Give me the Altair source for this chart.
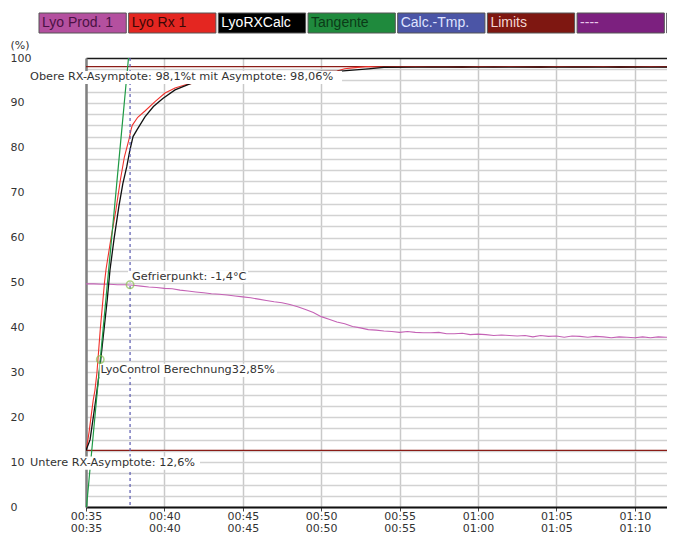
import altair as alt
import pandas as pd

# ---------------- legend bar ----------------
legend_labels = ["Lyo Prod. 1", "Lyo Rx 1", "LyoRXCalc", "Tangente", "Calc.-Tmp.", "Limits", "----", "----"]
legend_fill = ["#b4509f", "#e42621", "#000000", "#1f8a3d", "#4b55a6", "#7e1711", "#7c207f", "#2f2a70"]
legend_text = ["#4a1244", "#3a0806", "#ffffff", "#0b3a17", "#dfe3ff", "#f3d6d3", "#e8c8ea", "#d8d6f5"]

# ---------------- series (time in minutes after 00:00, value in %) ----------------
prod_t = [35.0, 35.5, 36.0, 36.5, 37.0, 37.5, 38.0, 38.5, 39.0, 39.5, 40.0, 40.5, 41.0, 41.5,
          42.0, 42.5, 43.0, 43.5, 44.0, 44.5, 45.0, 45.5, 46.0, 46.5, 47.0, 47.5, 48.0, 48.5,
          49.0, 49.5, 50.0, 50.5, 51.0, 51.5, 52.0, 52.5, 53.0, 53.5, 54.0, 54.5, 55.0, 55.5,
          56.0, 56.5, 57.0, 57.5, 58.0, 58.5, 59.0, 59.5, 60.0, 60.5, 61.0, 61.5, 62.0, 62.5,
          63.0, 63.5, 64.0, 64.5, 65.0, 65.5, 66.0, 66.5, 67.0, 67.5, 68.0, 68.5, 69.0, 69.5,
          70.0, 70.5, 71.0, 71.5, 72.0, 72.5]
prod_v = [49.7, 49.7, 49.6, 49.6, 49.5, 49.5, 49.4, 49.2, 49.0, 48.9, 48.7, 48.6, 48.3, 48.1,
          47.9, 47.7, 47.5, 47.4, 47.2, 47.0, 46.8, 46.6, 46.3, 46.0, 45.7, 45.5, 45.1, 44.6,
          44.0, 43.3, 42.4, 41.8, 41.2, 40.8, 40.2, 39.9, 39.5, 39.4, 39.2, 39.1, 38.9, 39.1,
          38.9, 38.8, 38.8, 38.9, 38.6, 38.6, 38.7, 38.4, 38.5, 38.4, 38.2, 38.3, 38.2, 38.1,
          38.2, 37.9, 38.2, 38.0, 38.1, 37.8, 38.1, 38.0, 37.8, 38.0, 37.9, 37.7, 37.9, 37.8,
          37.7, 37.9, 37.7, 37.9, 37.8, 37.9]

rx_t = [35.0, 35.1, 35.2, 35.3, 35.46, 35.57, 35.7, 35.92, 36.18, 36.28, 36.6, 36.9, 37.2,
        37.45, 37.6, 37.75, 37.87, 37.95, 38.3, 38.76, 39.4, 40.04, 40.68, 41.3, 41.83, 42.5,
        43.0, 44.0, 45.0, 46.0, 47.0, 48.0, 49.0, 50.0, 51.0, 51.5, 52.0, 53.0, 54.0, 55.0,
        56.0, 57.0, 58.0, 59.0, 60.0, 61.0, 62.0, 63.0, 64.0, 65.0, 66.0, 67.0, 68.0, 69.0,
        70.0, 71.0, 72.0, 72.6]
rx_v = [12.6, 14.5, 16.8, 19.5, 23.8, 26.0, 30.0, 40.0, 50.0, 53.0, 60.0, 66.0, 73.0,
        78.0, 80.0, 82.0, 84.0, 85.0, 86.8, 88.2, 90.3, 92.2, 93.3, 94.0, 94.4, 94.9,
        95.3, 95.9, 96.3, 96.6, 96.8, 96.9, 97.0, 97.0, 97.1, 97.6, 97.8, 98.1, 97.9, 98.0,
        98.1, 98.0, 98.0, 97.9, 98.1, 98.0, 98.1, 98.0, 97.9, 98.1, 98.0, 98.0, 98.1, 97.9,
        98.0, 98.1, 98.0, 98.0]

calc_t = [35.0, 35.26, 35.62, 35.85, 36.1, 36.35, 36.53, 36.8, 37.1, 37.35, 37.6, 37.8, 38.0,
          38.25, 38.76, 39.3, 39.9, 40.68, 41.74, 42.5, 43.0, 44.0, 45.0, 46.0, 47.0, 48.0,
          49.0, 50.0, 51.0, 52.0, 53.0, 54.0, 56.0, 60.0, 64.0, 68.0, 72.6]
calc_v = [12.6, 15.0, 23.8, 30.0, 38.0, 46.0, 52.8, 60.0, 67.0, 72.0, 75.8, 79.5, 82.5,
          84.0, 86.9, 89.2, 91.0, 92.9, 94.4, 94.9, 95.2, 95.7, 96.1, 96.4, 96.6, 96.8,
          96.9, 97.0, 97.0, 97.3, 97.6, 97.9, 97.95, 97.95, 97.95, 97.95, 97.95]

tangent_t = [35.03, 37.71]
tangent_v = [0.0, 100.0]

calc_tmp_t = [37.81]
limit_v = [98.1, 12.6]

marker_t = [37.81, 35.91]
marker_v = [49.5, 32.85]

ann_text = ["Obere RX-Asymptote: 98,1%t mit Asymptote: 98,06%", "Gefrierpunkt: -1,4°C",
            "LyoControl Berechnung32,85%", "Untere RX-Asymptote: 12,6%"]
ann_x = [31.43, 37.93, 35.92, 31.43]
ann_y = [95.8, 51.3, 30.5, 9.8]
ann_bx0 = [31.30, 37.68, 35.86, 31.30]
ann_bx1 = [51.33, 45.33, 47.18, 42.27]
ann_by0 = [94.2, 50.0, 28.95, 8.3]
ann_by1 = [97.1, 52.6, 31.9, 11.25]

x_ticks = [35, 40, 45, 50, 55, 60, 65, 70]
y_ticks = [0, 2.5, 5, 7.5, 10, 12.5, 15, 17.5, 20, 22.5, 25, 27.5, 30, 32.5, 35, 37.5, 40, 42.5,
           45, 47.5, 50, 52.5, 55, 57.5, 60, 62.5, 65, 67.5, 70, 72.5, 75, 77.5, 80, 82.5, 85,
           87.5, 90, 92.5, 95, 97.5, 100]

FONT = "DejaVu Sans"
W, H = 581, 449

xscale = alt.Scale(domain=[35, 72.054], zero=False, nice=False)
yscale = alt.Scale(domain=[0, 100], zero=False, nice=False)

time_lbl = "timeFormat(datetime(2000, 0, 1, 0, datum.value, 0), '%H:%M')"
xaxis = alt.Axis(values=x_ticks, labelExpr="[" + time_lbl + ", " + time_lbl + "]",
                 grid=True, gridColor="#c9c9c9", gridWidth=1.5,
                 domainColor="#111111", domainWidth=2, tickSize=4, tickColor="#444444",
                 labelFlush=False, labelOverlap=False, labelBaseline="top", labelPadding=-1,
                 labelLineHeight=12, labelFont=FONT, labelFontSize=11, labelColor="#333333",
                 title=None)
yaxis = alt.Axis(values=y_ticks, labelExpr="datum.value % 10 === 0 ? datum.label : ''",
                 grid=True,
                 gridColor=alt.condition("datum.value === 100", alt.value("#1a1a1a"), alt.value("#d2d2d2")),
                 gridWidth=1.5, domainColor="#808080", domainWidth=2.5, tickSize=0,
                 labelAlign="left", labelBaseline="middle", labelPadding=76, labelFlush=False,
                 labelOverlap=False, labelFont=FONT, labelFontSize=11, labelColor="#333333",
                 title="(%)", titleAngle=0, titleX=-76, titleY=-13, titleAlign="left",
                 titleBaseline="middle", titleFont=FONT, titleFontSize=11,
                 titleFontWeight="normal", titleColor="#333333")


def X(field):
    return alt.X(field, type="quantitative", scale=xscale, axis=xaxis)


def Y(field):
    return alt.Y(field, type="quantitative", scale=yscale, axis=yaxis)


df_prod = pd.DataFrame({"t": prod_t, "v": prod_v})
df_rx = pd.DataFrame({"t": rx_t, "v": rx_v})
df_calc = pd.DataFrame({"t": calc_t, "v": calc_v})
df_tan = pd.DataFrame({"t": tangent_t, "v": tangent_v})
df_ctmp = pd.DataFrame({"t": calc_tmp_t})
df_lim = pd.DataFrame({"v": limit_v})
df_mark = pd.DataFrame({"t": marker_t, "v": marker_v})
df_ann = pd.DataFrame({"txt": ann_text, "t": ann_x, "v": ann_y,
                       "bx0": ann_bx0, "bx1": ann_bx1, "by0": ann_by0, "by1": ann_by1})

limits = alt.Chart(df_lim).mark_rule(color="#8b1c17", strokeWidth=1.2).encode(y=Y("v"))
prod = alt.Chart(df_prod).mark_line(color="#c462b5", strokeWidth=1.1, clip=True).encode(x=X("t"), y=Y("v"))
rx = alt.Chart(df_rx).mark_line(color="#f0302a", strokeWidth=1.1, clip=True).encode(x=X("t"), y=Y("v"))
calc = alt.Chart(df_calc).mark_line(color="#111111", strokeWidth=1.3, clip=True).encode(x=X("t"), y=Y("v"))
tan = alt.Chart(df_tan).mark_line(color="#1e9a45", strokeWidth=1.2).encode(x=X("t"), y=Y("v"))
ctmp = alt.Chart(df_ctmp).mark_rule(color="#5a5ab0", strokeWidth=1.2, strokeDash=[3, 3]).encode(x=X("t"))
marks = alt.Chart(df_mark).mark_point(shape="circle", filled=False, size=55, strokeWidth=1.5,
                                      color="#8cc152").encode(x=X("t"), y=Y("v"))
ann_bg = alt.Chart(df_ann).mark_rect(color="white").encode(x=X("bx0"), x2="bx1", y=Y("by0"), y2="by1")
ann_tx = alt.Chart(df_ann).mark_text(align="left", baseline="middle", font=FONT, fontSize=11.3,
                                     color="#333333").encode(x=X("t"), y=Y("v"), text="txt:N")

data_layer = alt.layer(limits, prod, rx, calc, tan, ctmp, ann_bg, marks, ann_tx)

df_leg = pd.DataFrame({"idx": list(range(len(legend_labels))), "label": legend_labels})
leg_x = alt.Scale(range=[-47, 668], paddingInner=0.027, paddingOuter=0)
leg_rect = alt.Chart(df_leg).mark_rect(stroke="#555555", strokeWidth=1).encode(
    x=alt.X("idx:O", scale=leg_x, axis=None),
    y=alt.value(-45), y2=alt.value(-25),
    color=alt.Color("idx:O", scale=alt.Scale(domain=list(range(8)), range=legend_fill), legend=None),
)
leg_txt = alt.Chart(df_leg).mark_text(align="left", baseline="middle", dx=3, font="Liberation Sans",
                                      fontSize=14).encode(
    x=alt.X("idx:O", scale=leg_x, axis=None, bandPosition=0),
    y=alt.value(-35),
    text="label:N",
    color=alt.Color("idx:O", scale=alt.Scale(domain=list(range(8)), range=legend_text), legend=None),
)
legend_layer = alt.layer(leg_rect, leg_txt).resolve_scale(color="independent")

chart = alt.layer(legend_layer, data_layer).resolve_scale(x="independent", color="independent").properties(
    width=W, height=H,
    autosize=alt.AutoSizeParams(type="none"),
    padding={"left": 78, "top": 50, "right": 0, "bottom": 26},
    background="white",
).configure_view(stroke=None)

chart.save("out.html", embed_options={"renderer": "svg", "actions": False})
